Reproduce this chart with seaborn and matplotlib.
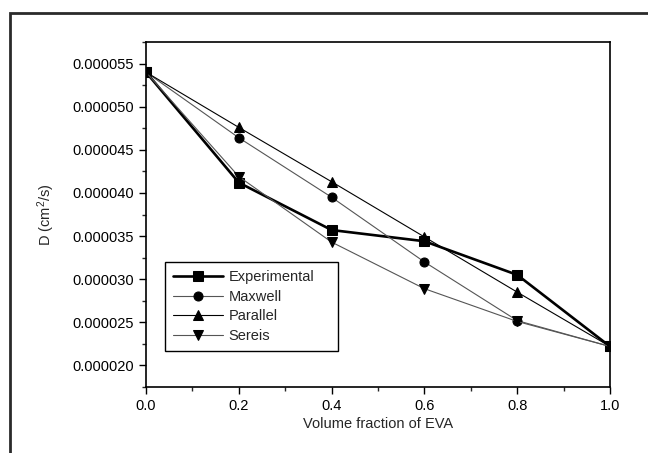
import matplotlib
matplotlib.use("Agg")
import matplotlib.pyplot as plt
import seaborn as sns
import pandas as pd
from matplotlib.ticker import FormatStrFormatter, MultipleLocator

# data (D in cm^2/s)
volume_fraction = [0.0, 0.2, 0.4, 0.6, 0.8, 1.0]
experimental = [54.0e-6, 41.2e-6, 35.7e-6, 34.4e-6, 30.5e-6, 22.2e-6]
maxwell = [54.0e-6, 46.4e-6, 39.5e-6, 32.0e-6, 25.2e-6, 22.2e-6]
parallel = [54.0e-6, 47.6e-6, 41.3e-6, 34.9e-6, 28.5e-6, 22.2e-6]
sereis = [54.0e-6, 41.9e-6, 34.3e-6, 28.9e-6, 25.1e-6, 22.2e-6]

series_names = ["Experimental", "Maxwell", "Parallel", "Sereis"]
series_values = [experimental, maxwell, parallel, sereis]

sns.set_style("ticks")
plt.rcParams["font.family"] = ["Liberation Sans", "DejaVu Sans"]
plt.rcParams["mathtext.default"] = "regular"

fig = plt.figure(figsize=(6.48, 4.53), dpi=100)
ax = fig.add_axes([146 / 648, 1 - 387 / 453, 464 / 648, 345 / 453])

# line styles for each series
styles = {
    "Experimental": dict(marker="s", color="black", linewidth=1.9),
    "Maxwell": dict(marker="o", color="#555555", linewidth=0.8),
    "Parallel": dict(marker="^", color="black", linewidth=0.8),
    "Sereis": dict(marker="v", color="#555555", linewidth=0.8),
}

for name, vals in zip(series_names, series_values):
    df = pd.DataFrame({"x": volume_fraction, "D": vals})
    st = styles[name]
    sns.lineplot(
        data=df, x="x", y="D", ax=ax, label=name,
        color=st["color"], linewidth=st["linewidth"],
        marker=st["marker"], markersize=6.5,
        markerfacecolor="black", markeredgecolor="black",
    )

ax.set_xlim(0.0, 1.0)
ax.set_ylim(17.5e-6, 57.5e-6)
ax.xaxis.set_major_locator(MultipleLocator(0.2))
ax.xaxis.set_minor_locator(MultipleLocator(0.1))
ax.yaxis.set_major_locator(MultipleLocator(5e-6))
ax.yaxis.set_minor_locator(MultipleLocator(2.5e-6))
ax.yaxis.set_major_formatter(FormatStrFormatter("%.6f"))
ax.xaxis.set_major_formatter(FormatStrFormatter("%.1f"))

ax.tick_params(which="major", direction="out", length=5, width=1, labelsize=10.5, colors="black")
ax.tick_params(which="minor", direction="out", length=3, width=1)
for sp in ax.spines.values():
    sp.set_linewidth(1.2)
    sp.set_color("black")

ax.set_xlabel("Volume fraction of EVA", fontsize=10.5, labelpad=3)
ax.set_ylabel("D (cm$^2$/s)", fontsize=10.5, labelpad=11)

# legend box stretched to the width seen in the picture
leg = ax.legend(
    loc="upper left", bbox_to_anchor=(0.041, 0.107, 0.373, 0.255),
    mode="expand", borderaxespad=0,
    fancybox=False, framealpha=1, edgecolor="black", fontsize=10.5,
    handlelength=3.4, handletextpad=0.4, labelspacing=0.38, borderpad=0.55,
)
leg.get_frame().set_linewidth(1.0)

# outer frame around the figure
frame = plt.Rectangle((10 / 648, -0.05), 1.1, 1 - 13 / 453 + 0.05,
                      transform=fig.transFigure, fill=False,
                      edgecolor="#2a2a2a", linewidth=2, clip_on=False)
fig.patches.append(frame)

fig.savefig("out.png", dpi=100)
